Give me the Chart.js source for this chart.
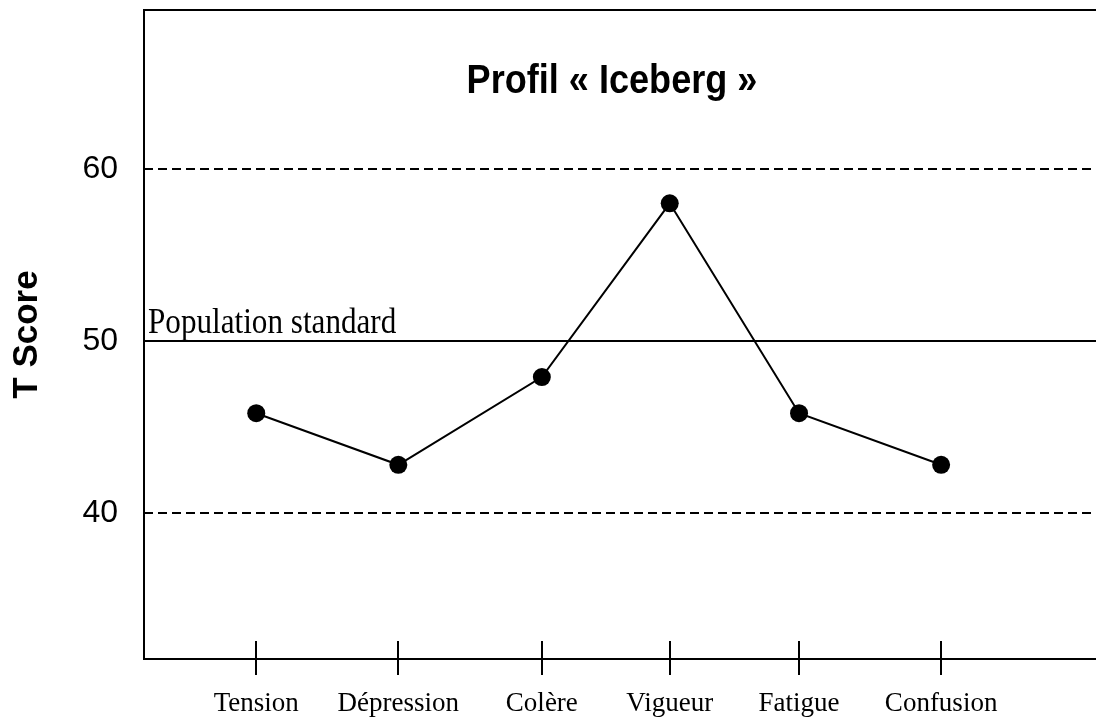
<!DOCTYPE html>
<html>
<head>
<meta charset="utf-8">
<script src="https://cdn.jsdelivr.net/npm/chart.js@4"></script>
<style>
  html, body { margin: 0; padding: 0; background: #fff; }
  #wrap { width: 1096px; height: 722px; }
</style>
</head>
<body>
<div id="wrap"><canvas id="chart" width="1096" height="722"></canvas></div>
<script>
// POMS profile values
const categories = ['Tension', 'Dépression', 'Colère', 'Vigueur', 'Fatigue', 'Confusion'];
const categoryX = [0.79, 1.79, 2.80, 3.70, 4.61, 5.61];
const tScores = [45.8, 42.8, 47.9, 58.0, 45.8, 42.8];
const yTicks = [40, 50, 60];
const populationStandard = 50;
const bandLimits = [60, 40];
const xRange = [0, 6.70];
const yRange = [31.51, 69.24];
const titleText = 'Profil « Iceberg »';
const normLabel = 'Population standard';

const SANS = '"Liberation Sans", Arial, sans-serif';
const SERIF = '"Liberation Serif", "Times New Roman", serif';

const flatLine = (v) => [{ x: xRange[0], y: v }, { x: xRange[1], y: v }];

// frame top line, crossing tick marks, title and the norm label
const framePlugin = {
  id: 'frame',
  afterDraw(chart) {
    const { ctx, chartArea: a, scales: { x, y } } = chart;
    ctx.save();
    ctx.strokeStyle = '#000';
    ctx.lineWidth = 2;
    ctx.beginPath();
    ctx.moveTo(a.left - 1, a.top);
    ctx.lineTo(a.right, a.top);
    categoryX.forEach(v => {
      const px = Math.round(x.getPixelForValue(v));
      ctx.moveTo(px, a.bottom - 18);
      ctx.lineTo(px, a.bottom + 16);
    });
    ctx.stroke();

    ctx.fillStyle = '#000';
    ctx.textBaseline = 'alphabetic';

    ctx.save();
    ctx.translate(a.left + 468, a.top + 83);
    ctx.scale(0.88, 1);
    ctx.font = 'bold 41px ' + SANS;
    ctx.textAlign = 'center';
    ctx.fillText(titleText, 0, 0);
    ctx.restore();

    ctx.save();
    ctx.translate(a.left + 4, y.getPixelForValue(populationStandard) - 8);
    ctx.scale(0.89, 1);
    ctx.font = '35px ' + SERIF;
    ctx.textAlign = 'left';
    ctx.fillText(normLabel, 0, 0);
    ctx.restore();

    ctx.restore();
  }
};

const noPad = (s) => {
  s.paddingTop = 0;
  s.paddingBottom = 0;
  s.paddingLeft = 0;
  s.paddingRight = 0;
};

new Chart(document.getElementById('chart'), {
  type: 'line',
  data: {
    datasets: [
      {
        label: 'T Score',
        data: categoryX.map((v, i) => ({ x: v, y: tScores[i] })),
        borderColor: '#000',
        borderWidth: 2,
        pointRadius: 9,
        pointBackgroundColor: '#000',
        pointBorderColor: '#000',
        pointBorderWidth: 0,
        tension: 0
      },
      {
        label: 'Population standard',
        data: flatLine(populationStandard),
        borderColor: '#000',
        borderWidth: 2,
        pointRadius: 0
      },
      ...bandLimits.map(v => ({
        label: 'limit ' + v,
        data: flatLine(v),
        borderColor: '#000',
        borderWidth: 2,
        borderDash: [9, 5],
        pointRadius: 0
      }))
    ]
  },
  options: {
    responsive: false,
    animation: false,
    layout: { autoPadding: false, padding: { top: 10, left: 0, right: 0, bottom: 0 } },
    scales: {
      x: {
        type: 'linear',
        min: xRange[0],
        max: xRange[1],
        afterBuildTicks: (s) => { s.ticks = categoryX.map(v => ({ value: v })); },
        afterFit: (s) => { s.height = 63; noPad(s); },
        grid: { display: false, drawTicks: false },
        border: { display: true, color: '#000', width: 2 },
        ticks: {
          autoSkip: false,
          maxRotation: 0,
          padding: 29,
          color: '#000',
          font: { family: SERIF, size: 27 },
          callback: (v) => {
            const i = categoryX.indexOf(v);
            return i >= 0 ? categories[i] : '';
          }
        }
      },
      y: {
        type: 'linear',
        min: yRange[0],
        max: yRange[1],
        afterBuildTicks: (s) => { s.ticks = yTicks.map(v => ({ value: v })); },
        afterFit: (s) => { s.width = 144; noPad(s); },
        grid: { display: false, drawTicks: false },
        border: { display: true, color: '#000', width: 2 },
        ticks: {
          padding: 26,
          color: '#000',
          font: { family: SANS, size: 32 }
        },
        title: {
          display: true,
          text: 'T Score',
          color: '#000',
          padding: { top: 6, bottom: 0 },
          font: { family: SANS, size: 35, weight: 'bold' }
        }
      }
    },
    plugins: {
      legend: { display: false },
      tooltip: { enabled: false }
    }
  },
  plugins: [framePlugin]
});
</script>
</body>
</html>
